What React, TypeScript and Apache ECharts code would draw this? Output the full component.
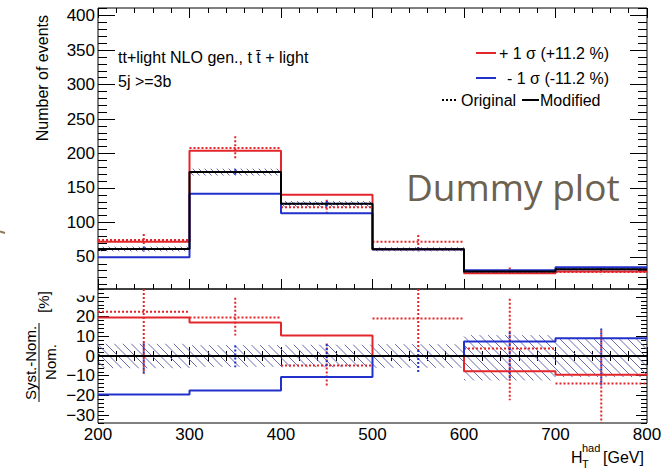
import React, { useEffect, useRef } from 'react';
import * as echarts from 'echarts';

// ---------- data ----------
const binEdges = [200, 300, 400, 500, 600, 700, 800];
const xTicks = [200, 300, 400, 500, 600, 700, 800];
const upperYTicks = [50, 100, 150, 200, 250, 300, 350, 400];
const ratioYTicks = [-30, -20, -10, 0, 10, 20, 30];

// upper panel (number of events)
const nominal = [61.5, 173, 127, 61, 28.7, 32];
const modPlus = [72, 204, 140, 61, 26.5, 29];
const modMinus = [49.5, 141.5, 113.5, 61, 30.8, 35];
const origPlus = [74.7, 208, 122, 72, 29.7, 28];
const origPlusErr = [8.5, 17, 11, 9.7, 5, 3];
const nominalStatErr = [3.6, 5, 4, 3, 2, 2];
const nominalBandErr = [3.5, 5, 4, 3, 2, 2];

// lower panel (ratio, %)
const ratioPlus = [19.5, 17, 10.4, 0, -7.7, -9.5];
const ratioMinus = [-19.5, -17.5, -10.7, 0, 7.3, 9];
const ratioOrigPlus = [22.5, 19.6, -4.8, 19, 3.8, -14];
const ratioOrigPlusLo = [-9, 10.4, -15.8, 3, -22.5, -41];
const ratioOrigPlusHi = [54, 29.5, 6.3, 35, 29, 13];
const ratioStatLo = [-9, -5.7, -5, -8.7, -12, -15];
const ratioStatHi = [6.5, 5.3, 6, 3, 12, 14];
const ratioBandLo = [-6.2, -5.5, -5.7, -6, -12.4, -10.7];
const ratioBandHi = [6.2, 5.5, 5.7, 6, 10.6, 9];

// ---------- style ----------
const FONT = '"Liberation Sans", Arial, Helvetica, sans-serif';
const RED = '#e3262b';
const BLUE = '#2230cc';
const HATCH = '#6a6ab4';
const UP_MIN = 3.5;
const UP_MAX = 411;
const LO_MIN = -34;
const LO_MAX = 34;

const stepData = (vals: number[]) => [
  ...vals.map((v, i) => [binEdges[i], v]),
  [binEdges[binEdges.length - 1], vals[vals.length - 1]],
];

const bandData = (lo: number[], hi: number[]) =>
  lo.map((l, i) => [binEdges[i], binEdges[i + 1], l, hi[i]]);

const errData = (c: number[], lo: number[], hi: number[]) =>
  c.map((v, i) => [binEdges[i], binEdges[i + 1], v, lo[i], hi[i]]);

function hatchRender(spacing: number) {
  return (params: any, api: any) => {
    const pA = api.coord([api.value(0), api.value(3)]);
    const pB = api.coord([api.value(1), api.value(2)]);
    const x0 = pA[0], y0 = pA[1], x1 = pB[0], y1 = pB[1];
    const children: any[] = [];
    const kStart = Math.ceil((y0 - x1) / spacing) * spacing;
    for (let k = kStart; k <= y1 - x0; k += spacing) {
      const xa = Math.max(x0, y0 - k);
      const xb = Math.min(x1, y1 - k);
      if (xb > xa) {
        children.push({
          type: 'line',
          shape: { x1: xa, y1: xa + k, x2: xb, y2: xb + k },
          style: { stroke: HATCH, lineWidth: 1 },
        });
      }
    }
    return { type: 'group', children };
  };
}

function errRender(color: string, minV: number, maxV: number, horiz: boolean) {
  return (params: any, api: any) => {
    const x0 = api.value(0), x1 = api.value(1), c = api.value(2);
    const lo = Math.max(minV, api.value(3));
    const hi = Math.min(maxV, api.value(4));
    const xm = (x0 + x1) / 2;
    const a = api.coord([x0, c]);
    const b = api.coord([x1, c]);
    const t = api.coord([xm, hi]);
    const u = api.coord([xm, lo]);
    const st = { stroke: color, lineWidth: 2, lineDash: [2, 2] };
    const children: any[] = [];
    if (horiz) children.push({ type: 'line', shape: { x1: a[0], y1: a[1], x2: b[0], y2: b[1] }, style: st });
    children.push({ type: 'line', shape: { x1: t[0], y1: t[1], x2: u[0], y2: u[1] }, style: st });
    return { type: 'group', children };
  };
}

function minorValues(min: number, max: number, step: number, major: number) {
  const out: number[] = [];
  const start = Math.ceil(min / step) * step;
  for (let v = start; v <= max + 1e-9; v += step) {
    const r = Math.round(v * 1000) / 1000;
    if (Math.abs(r % major) > 1e-6) out.push(r);
  }
  return out;
}

function buildOption() {
  const grids = [
    { left: 98, right: 19, top: 8, height: 281, show: true, borderColor: '#000', borderWidth: 1 },
    { left: 98, right: 19, top: 289, height: 134, show: true, borderColor: '#000', borderWidth: 1 },
  ];
  const tickLine = { color: '#000', width: 1 };
  const xAxisBase = (grid: number, pos: string, len: number, minorLen: number, labels: boolean) => ({
    type: 'value',
    gridIndex: grid,
    position: pos,
    min: 200,
    max: 800,
    interval: 100,
    axisLine: { show: false },
    splitLine: { show: false },
    axisTick: { show: true, inside: true, length: len, lineStyle: tickLine },
    minorTick: { show: true, splitNumber: 5, length: minorLen, lineStyle: tickLine },
    axisLabel: labels
      ? { show: true, fontSize: 17, fontFamily: FONT, color: '#000', margin: 3, customValues: xTicks }
      : { show: false },
  });
  const yAxisBase = (
    grid: number, pos: string, min: number, max: number, ticks: number[], len: number,
    labels: boolean, fontSize: number,
  ) => ({
    type: 'value',
    gridIndex: grid,
    position: pos,
    min,
    max,
    axisLine: { show: false },
    splitLine: { show: false },
    axisTick: { show: true, inside: true, length: len, lineStyle: tickLine, customValues: ticks },
    axisLabel: labels
      ? {
          show: true, fontSize, fontFamily: FONT, color: '#000', margin: 3, customValues: ticks,
          formatter: (v: number) => (v < 0 ? '\u2212' + Math.abs(v) : String(v)),
        }
      : { show: false },
  });
  const upMinor = minorValues(UP_MIN, UP_MAX, 10, 50);
  const loMinor = minorValues(LO_MIN, LO_MAX, 2, 10);

  const xAxis = [
    xAxisBase(0, 'bottom', 10, 5, false),
    xAxisBase(0, 'top', 10, 5, false),
    xAxisBase(1, 'bottom', 9, 5, true),
    xAxisBase(1, 'top', 9, 5, false),
  ];
  const yAxis = [
    yAxisBase(0, 'left', UP_MIN, UP_MAX, upperYTicks, 17, true, 17),
    yAxisBase(0, 'left', UP_MIN, UP_MAX, upMinor, 9, false, 17),
    yAxisBase(0, 'right', UP_MIN, UP_MAX, upperYTicks, 17, false, 17),
    yAxisBase(0, 'right', UP_MIN, UP_MAX, upMinor, 9, false, 17),
    yAxisBase(1, 'left', LO_MIN, LO_MAX, ratioYTicks, 11, true, 17),
    yAxisBase(1, 'left', LO_MIN, LO_MAX, loMinor, 6, false, 17),
    yAxisBase(1, 'right', LO_MIN, LO_MAX, ratioYTicks, 11, false, 17),
    yAxisBase(1, 'right', LO_MIN, LO_MAX, loMinor, 6, false, 17),
  ];

  const stepLine = (name: string, data: any[], color: string, xi: number, yi: number, z: number) => ({
    name,
    type: 'line',
    xAxisIndex: xi,
    yAxisIndex: yi,
    step: 'end',
    data,
    symbol: 'none',
    z,
    lineStyle: { color, width: 2 },
  });

  const upBandLo = nominal.map((v, i) => v - nominalBandErr[i]);
  const upBandHi = nominal.map((v, i) => v + nominalBandErr[i]);
  const upOrigLo = origPlus.map((v, i) => v - origPlusErr[i]);
  const upOrigHi = origPlus.map((v, i) => v + origPlusErr[i]);
  const upStatLo = nominal.map((v, i) => v - nominalStatErr[i]);
  const upStatHi = nominal.map((v, i) => v + nominalStatErr[i]);
  const zeros = ratioPlus.map(() => 0);

  const series: any[] = [
    // upper
    {
      type: 'custom', xAxisIndex: 0, yAxisIndex: 0, z: 2,
      renderItem: hatchRender(6), data: bandData(upBandLo, upBandHi),
      encode: { x: [0, 1], y: [2, 3] },
    },
    {
      type: 'custom', xAxisIndex: 0, yAxisIndex: 0, z: 3,
      renderItem: errRender(RED, UP_MIN, UP_MAX, true), data: errData(origPlus, upOrigLo, upOrigHi),
      encode: { x: [0, 1], y: [2, 3, 4] },
    },
    {
      type: 'custom', xAxisIndex: 0, yAxisIndex: 0, z: 3,
      renderItem: errRender(BLUE, UP_MIN, UP_MAX, true), data: errData(nominal, upStatLo, upStatHi),
      encode: { x: [0, 1], y: [2, 3, 4] },
    },
    stepLine('+1 sigma', stepData(modPlus), RED, 0, 0, 4),
    stepLine('-1 sigma', stepData(modMinus), BLUE, 0, 0, 4),
    stepLine('nominal', stepData(nominal), '#000', 0, 0, 5),
    // lower
    {
      type: 'custom', xAxisIndex: 2, yAxisIndex: 4, z: 2,
      renderItem: hatchRender(8.5), data: bandData(ratioBandLo, ratioBandHi),
      encode: { x: [0, 1], y: [2, 3] },
    },
    {
      type: 'custom', xAxisIndex: 2, yAxisIndex: 4, z: 3,
      renderItem: errRender(RED, LO_MIN, LO_MAX, true), data: errData(ratioOrigPlus, ratioOrigPlusLo, ratioOrigPlusHi),
      encode: { x: [0, 1], y: [2, 3, 4] },
    },
    {
      type: 'custom', xAxisIndex: 2, yAxisIndex: 4, z: 3,
      renderItem: errRender(BLUE, LO_MIN, LO_MAX, true), data: errData(zeros, ratioStatLo, ratioStatHi),
      encode: { x: [0, 1], y: [2, 3, 4] },
    },
    stepLine('ratio +1 sigma', stepData(ratioPlus), RED, 2, 4, 4),
    stepLine('ratio -1 sigma', stepData(ratioMinus), BLUE, 2, 4, 4),
    stepLine('ratio nominal', stepData(zeros), '#000', 2, 4, 5),
  ];

  const txt = (text: string, x: number, y: number, size: number, align = 'left', extra: any = {}) => ({
    type: 'text',
    x,
    y,
    z: 100,
    ...extra,
    style: {
      text,
      fill: extra.fill || '#000',
      font: `${size}px ${extra.family || FONT}`,
      textAlign: align,
      textVerticalAlign: 'middle',
    },
  });
  const seg = (x1: number, y1: number, x2: number, y2: number, stroke: string, w: number, dash?: number[]) => ({
    type: 'line',
    z: 100,
    shape: { x1, y1, x2, y2 },
    style: { stroke, lineWidth: w, lineDash: dash },
  });

  const graphic = [
    // hides the top of the lower panel's "30" label, as in the reference
    { type: 'rect', z: 90, shape: { x: 50, y: 289.5, width: 46, height: 6 }, style: { fill: '#fff' } },
    txt('tt+light NLO gen., t t\u0304 + light', 118, 57, 16),
    txt('5j >=3b', 118, 81, 16),
    seg(476, 53, 496, 53, RED, 2),
    txt('+ 1 \u03c3 (+11.2 %)', 609, 53, 16, 'right'),
    seg(476, 78, 496, 78, BLUE, 2),
    txt('- 1 \u03c3 (-11.2 %)', 609, 78, 16, 'right'),
    seg(442, 100, 457, 100, '#000', 2, [2, 2]),
    txt('Original', 461, 100, 16),
    seg(522, 100, 539, 100, '#000', 2),
    txt('Modified', 540, 100, 16),
    txt('Dummy plot', 406, 186, 37, 'left', { fill: '#6d6150', family: '"Open Sans", "Noto Sans", sans-serif' }),
    txt('Number of events', 42, 15, 16, 'right', { rotation: Math.PI / 2 }),
    txt('Syst.-Nom.', 30, 363, 15, 'center', { rotation: Math.PI / 2 }),
    seg(39, 323, 39, 402, '#000', 1),
    txt('Nom.', 50, 362, 15, 'center', { rotation: Math.PI / 2 }),
    txt('[%]', 43, 302, 15, 'center', { rotation: Math.PI / 2 }),
    txt('H', 571, 457, 16),
    txt('had', 582, 448, 11),
    txt('T', 582, 464, 11),
    txt('[GeV]', 603, 457, 16),
    seg(0, 231.5, 5, 233, '#8a7a5a', 2),
  ];

  return {
    animation: false,
    backgroundColor: '#fff',
    grid: grids,
    xAxis,
    yAxis,
    series,
    graphic,
  };
}

export default function App() {
  const ref = useRef<HTMLDivElement>(null);
  useEffect(() => {
    if (!ref.current) return;
    const chart = echarts.init(ref.current, null, { renderer: 'svg' });
    chart.setOption(buildOption() as any);
    return () => chart.dispose();
  }, []);
  return (
    <div
      ref={ref}
      style={{ position: 'absolute', left: 0, top: 0, width: 666, height: 469, background: '#fff' }}
    />
  );
}
